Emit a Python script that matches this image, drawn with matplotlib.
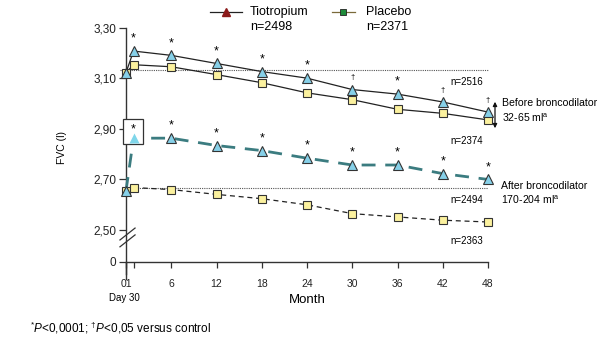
import matplotlib
matplotlib.use("Agg")
import matplotlib.pyplot as plt
from matplotlib.lines import Line2D
from matplotlib.patches import Rectangle, FancyArrowPatch

plt.rcParams['font.family'] = ['Liberation Sans', 'DejaVu Sans']
plt.rcParams['mathtext.fontset'] = 'custom'
plt.rcParams['mathtext.rm'] = 'Liberation Sans'
plt.rcParams['mathtext.it'] = 'Liberation Sans:italic'

# Data: FVC (l) by month
months = [0, 1, 6, 12, 18, 24, 30, 36, 42, 48]
tio_pre = [3.122, 3.207, 3.190, 3.158, 3.126, 3.100, 3.055, 3.037, 3.006, 2.966]
pla_pre = [3.122, 3.153, 3.145, 3.114, 3.082, 3.042, 3.015, 2.977, 2.961, 2.935]
tio_post = [2.655, 2.863, 2.863, 2.834, 2.814, 2.784, 2.757, 2.757, 2.723, 2.700]
pla_post = [2.655, 2.668, 2.660, 2.641, 2.624, 2.600, 2.565, 2.552, 2.539, 2.532]
pre_sig = ['', '*', '*', '*', '*', '*', '\u2020', '*', '\u2020', '\u2020']
post_sig = ['', '*', '*', '*', '*', '*', '*', '*', '*', '*']
baseline_pre = 3.132
baseline_post = 2.666

xticks = [0, 1, 6, 12, 18, 24, 30, 36, 42, 48]
xticklabels = ['01', '', '6', '12', '18', '24', '30', '36', '42', '48']
y_zero = 2.374  # position standing in for 0 below the axis break
yticks = [y_zero, 2.50, 2.70, 2.90, 3.10, 3.30]
yticklabels = ['0', '2,50', '2,70', '2,90', '3,10', '3,30']

W, H = 600, 337
fig = plt.figure(figsize=(6.0, 3.37), dpi=100)
ax = fig.add_axes([126 / W, 1 - 262 / H, 362 / W, (262 - 27.5) / H])
ax.set_xlim(0, 48)
ax.set_ylim(y_zero, 3.30)

tri_face = '#86d0e8'
sq_face = '#fbf19e'
teal = '#3b7c80'

# reference lines
ax.plot([-0.8, 48], [baseline_pre] * 2, ls=(0, (1, 1)), color='#555555', lw=0.8,
        zorder=1, clip_on=False)
ax.plot([0, 48], [baseline_post] * 2, ls=(0, (1, 1)), color='#555555', lw=0.8, zorder=1)

# before bronchodilator
ax.plot(months, pla_pre, '-', color='#222222', lw=0.9, marker='s', ms=5.3,
        mfc=sq_face, mec='#333333', mew=0.8, zorder=3, clip_on=False)
ax.plot(months, tio_pre, '-', color='#222222', lw=0.9, marker='^', ms=7.5,
        mfc=tri_face, mec='#333333', mew=0.8, zorder=4, clip_on=False)

# after bronchodilator
ax.plot(months, pla_post, color='#222222', lw=0.9, ls=(0, (4, 3)), marker='s', ms=5.3,
        mfc=sq_face, mec='#333333', mew=0.8, zorder=3, clip_on=False)
ax.plot(months, tio_post, color=teal, lw=2.0, ls=(0, (5, 3.5)), zorder=4, clip_on=False)
ax.plot(months[0:1] + months[2:], tio_post[0:1] + tio_post[2:], ls='none', marker='^',
        ms=7.5, mfc=tri_face, mec='#333333', mew=0.8, zorder=5, clip_on=False)

# highlighted first visit after bronchodilator
ax.add_patch(Rectangle((-0.4, 2.84), 2.65, 0.098, fc='white', ec='#333333', lw=0.9,
                       zorder=6, clip_on=False))
ax.plot([months[1]], [tio_post[1]], ls='none', marker='^', ms=7.5, mfc='#7fd6ea',
        mec='none', zorder=7, clip_on=False)

# significance markers
for m, v, s in zip(months, tio_pre, pre_sig):
    if s:
        ax.annotate(s, (m, v), xytext=(0, 4.5 if s == '*' else 6), textcoords='offset points',
                    ha='center', va='bottom', fontsize=9 if s == '*' else 5.5, zorder=8)
for m, v, s in zip(months, tio_post, post_sig):
    if s:
        ax.annotate(s, (m, v), xytext=(0, 4.5 if m != 1 else 2), textcoords='offset points',
                    ha='center', va='bottom', fontsize=9, zorder=8)

# axes styling with a broken y axis
for side in ['top', 'right', 'left']:
    ax.spines[side].set_visible(False)
ax.spines['bottom'].set_color('#333333')
ax.spines['bottom'].set_linewidth(1.0)
ax.plot([0, 0], [3.30, 2.50 - 0.0395 * 4.4], color='#333333', lw=1.0, clip_on=False, zorder=2)
ax.plot([0, 0], [2.50 - 0.0395 * 4.9, y_zero], color='#333333', lw=1.0, clip_on=False, zorder=2)
for off in (0.0, 0.027):
    ax.plot([-0.8, 1.2], [2.434 + off, 2.481 + off], color='#333333', lw=0.9,
            clip_on=False, zorder=2)

ax.set_xticks(xticks)
ax.set_xticklabels(xticklabels, fontsize=7.5, color='#222222')
ax.set_yticks(yticks)
ax.set_yticklabels(yticklabels, fontsize=8.5, color='#222222')
ax.tick_params(axis='x', direction='out', length=4, width=0.9, pad=8, color='#333333')
ax.tick_params(axis='y', direction='out', length=5, width=0.9, pad=2, color='#333333')


def ftext(x, y, s, **kw):
    fig.text(x / W, 1 - y / H, s, **kw)


ftext(62, 147, 'FVC (l)', rotation=90, ha='center', va='center', fontsize=7.5)
ftext(307, 300, 'Month', ha='center', va='center', fontsize=9.5)
ftext(124, 298, 'Day 30', ha='center', va='center', fontsize=7)
ftext(30, 328, r'$^{*}\mathit{P}$<0,0001; $^{\dagger}\mathit{P}$<0,05 versus control',
      ha='left', va='center', fontsize=8.5)

# legend
fig.add_artist(Line2D([210 / W, 242 / W], [1 - 12 / H] * 2, color='#222222', lw=0.9))
fig.add_artist(Line2D([226 / W], [1 - 12 / H], ls='none', marker='^', ms=6,
                      mfc='#8b1a1a', mec='#8b1a1a'))
ftext(250, 12, 'Tiotropium', ha='left', va='center', fontsize=9)
ftext(250, 27, 'n=2498', ha='left', va='center', fontsize=9)
fig.add_artist(Line2D([332 / W, 355 / W], [1 - 12 / H] * 2, color='#7a6a3a', lw=0.9))
fig.add_artist(Line2D([343 / W], [1 - 12 / H], ls='none', marker='s', ms=5,
                      mfc='#1e8a3a', mec='#222222', mew=0.6))
ftext(366, 12, 'Placebo', ha='left', va='center', fontsize=9)
ftext(366, 27, 'n=2371', ha='left', va='center', fontsize=9)

# group sizes and differences
ftext(450, 82, 'n=2516', ha='left', va='center', fontsize=7)
ftext(450, 141, 'n=2374', ha='left', va='center', fontsize=7)
ftext(450, 200, 'n=2494', ha='left', va='center', fontsize=7)
ftext(450, 241, 'n=2363', ha='left', va='center', fontsize=7)
ftext(502, 103, 'Before broncodilator', ha='left', va='center', fontsize=7.6)
ftext(502, 118, r'32-65 ml$^{\mathrm{a}}$', ha='left', va='center', fontsize=7.6)
ftext(501, 186, 'After broncodilator', ha='left', va='center', fontsize=7.6)
ftext(501, 200, r'170-204 ml$^{\mathrm{a}}$', ha='left', va='center', fontsize=7.6)
fig.add_artist(FancyArrowPatch(
    (495 / W, 1 - 99 / H), (495 / W, 1 - 131 / H), transform=fig.transFigure,
    arrowstyle='<|-|>', mutation_scale=6, color='#111111', lw=0.9))

fig.savefig('out.png', dpi=100, facecolor='white')
